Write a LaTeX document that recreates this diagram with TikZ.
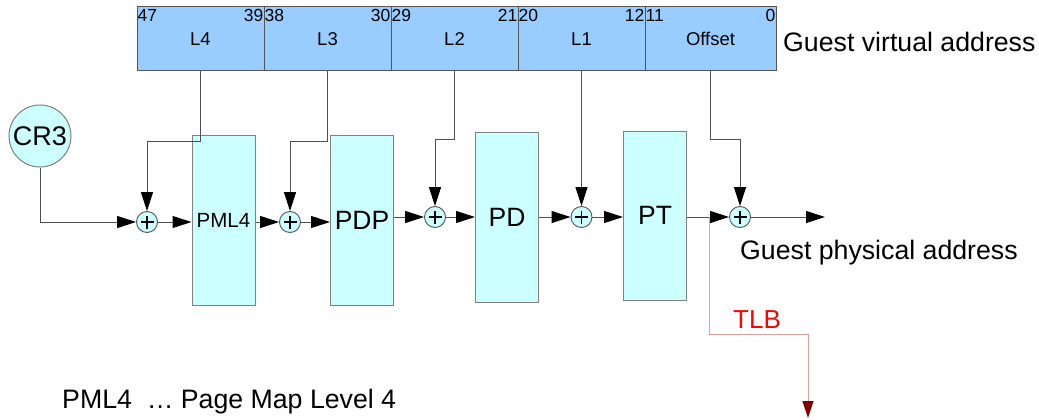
\documentclass[tikz,border=0pt]{standalone}
\usepackage{fontspec}
\setmainfont{Liberation Sans}
\usetikzlibrary{arrows.meta}
\definecolor{barblue}{HTML}{99CCFF}
\definecolor{tablecyan}{HTML}{CCFFFF}
\definecolor{edgegray}{HTML}{555555}
\definecolor{linegray}{HTML}{505050}
\definecolor{tlbline}{HTML}{E0A0A0}
\definecolor{tlbtip}{HTML}{800000}
\begin{document}
\begin{tikzpicture}[x=1pt,y=-1pt,
  field/.style={draw=edgegray, fill=barblue, line width=1pt, minimum height=64pt, inner sep=0pt,
    font=\fontsize{18.5}{20}\selectfont},
  bitnum/.style={inner xsep=1pt, inner ysep=2.5pt, font=\fontsize{17.5}{19}\selectfont},
  table/.style={draw=gray, fill=tablecyan, line width=1pt, minimum width=63pt, minimum height=170pt, inner sep=0pt,
    font=\fontsize{26.5}{28}\selectfont},
  adder/.style={circle, draw=edgegray, fill=tablecyan, line width=0.9pt, minimum size=21pt, inner sep=0pt,
    path picture={\draw[black, line width=1.5pt]
      (path picture bounding box.center) ++(-6.5pt,0pt) -- ++(13pt,0pt)
      (path picture bounding box.center) ++(0pt,-6.5pt) -- ++(0pt,13pt);}},
  bigtext/.style={inner sep=0pt, font=\fontsize{26.7}{28}\selectfont},
  line/.style={draw=linegray, line width=1pt},
  arr/.style={line, -{Triangle[length=19pt, width=12pt, color=black]}},
  tlbpath/.style={draw=tlbline, line width=1pt, -{Triangle[length=17pt, width=11pt, color=tlbtip]}}
]
\useasboundingbox (0,0) rectangle (1039,420);

% address fields
\node[field, minimum width=127pt] (f4) at (200.5,39) {L4};
\node[field, minimum width=127pt] (f3) at (327.5,39) {L3};
\node[field, minimum width=127pt] (f2) at (454.5,39) {L2};
\node[field, minimum width=127pt] (f1) at (581.5,39) {L1};
\node[field, minimum width=131pt] (f0) at (710.5,39) {Offset};

\node[bitnum, anchor=north west] (n47) at (f4.north west) {47};
\node[bitnum, anchor=north east] (n39) at (f4.north east) {39};
\node[bitnum, anchor=north west] (n38) at (f3.north west) {38};
\node[bitnum, anchor=north east] (n30) at (f3.north east) {30};
\node[bitnum, anchor=north west] (n29) at (f2.north west) {29};
\node[bitnum, anchor=north east] (n21) at (f2.north east) {21};
\node[bitnum, anchor=north west] (n20) at (f1.north west) {20};
\node[bitnum, anchor=north east] (n12) at (f1.north east) {12};
\node[bitnum, anchor=north west] (n11) at (f0.north west) {11};
\node[bitnum, anchor=north east] (n0) at (f0.north east) {0};

\node[bigtext, anchor=west] (gva) at (783,42) {Guest virtual address};

% CR3
\node[circle, draw=gray, fill=tablecyan, line width=1pt, minimum size=62pt, inner sep=0pt,
  font=\fontsize{27}{28}\selectfont] (cr3) at (40,136) {CR3};

% tables
\node[table, font=\fontsize{20.5}{22}\selectfont] (pml4) at (223.5,220) {PML4};
\node[table] (pdp) at (362,220) {PDP};
\node[table] (pd) at (507,217) {PD};
\node[table, minimum height=169pt] (pt) at (655,215.5) {PT};

% adders
\node[adder] (p1) at (147,222) {};
\node[adder] (p2) at (290,222) {};
\node[adder] (p3) at (435,217) {};
\node[adder] (p4) at (581.5,217) {};
\node[adder] (p5) at (740,217) {};

\coordinate (split) at (709,217);
\coordinate (gpaend) at (825,217);
\coordinate (tlbend) at (808,418);

% flow
\draw[arr] (cr3.south) |- (p1.west);
\draw[arr] (p1.east) -- (p1.east -| pml4.west);
\draw[arr] (pml4.east |- p2) -- (p2.west);
\draw[arr] (p2.east) -- (p2.east -| pdp.west);
\draw[arr] (pdp.east |- p3) -- (p3.west);
\draw[arr] (p3.east) -- (p3.east -| pd.west);
\draw[arr] (pd.east |- p4) -- (p4.west);
\draw[arr] (p4.east) -- (p4.east -| pt.west);
\draw[line] (pt.east |- p5) -- (split);
\draw[arr] (split) -- (p5.west);
\draw[arr] (p5.east) -- (gpaend);

% index lines from the address fields
\draw[arr] (f4.south) -- ++(0,70) -| (p1.north);
\draw[arr] (f3.south) -- ++(0,70) -| (p2.north);
\draw[arr] (f2.south) -- ++(0,68) -| (p3.north);
\draw[arr] (f1.south) -- (p4.north);
\draw[arr] (f0.south) -- ++(0,68) -| (p5.north);

% TLB path
\draw[tlbpath] (split) -- ++(0,117) -| (tlbend);
\node[inner sep=0pt, text=red, font=\fontsize{26}{28}\selectfont] (tlb) at (757,320) {TLB};

\node[bigtext, anchor=west] (gpa) at (740,253) {Guest physical address};
\node[bigtext, anchor=west] (legend) at (62,402) {PML4\ \ … Page Map Level 4};
\end{tikzpicture}
\end{document}
